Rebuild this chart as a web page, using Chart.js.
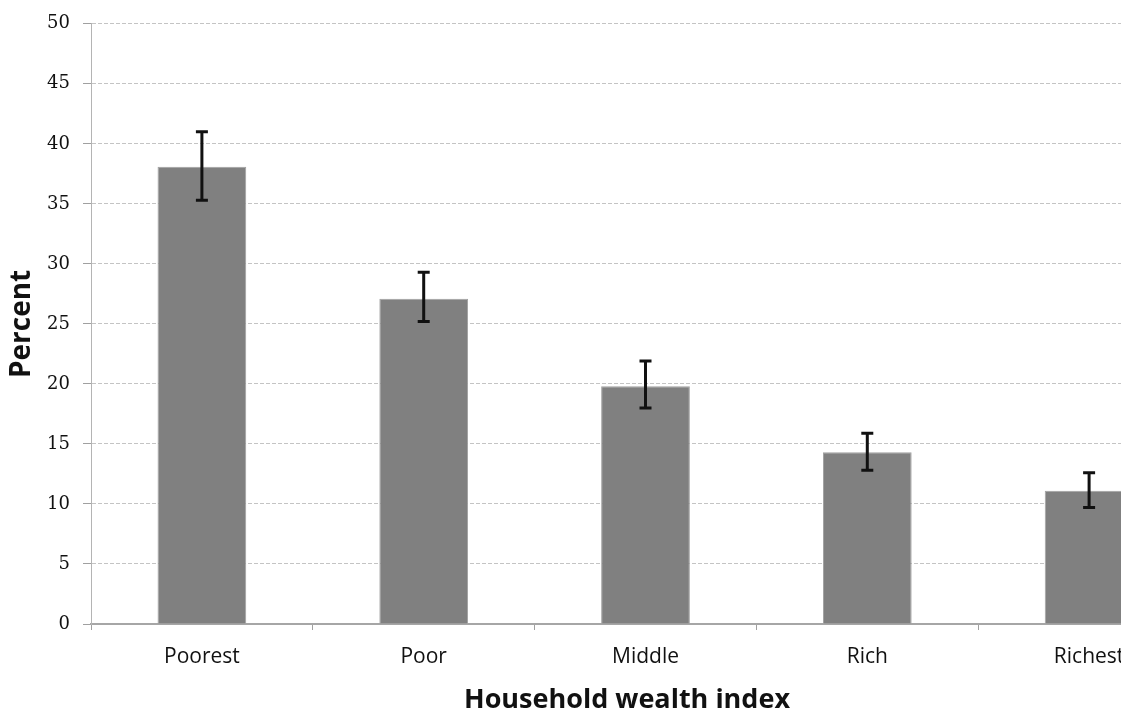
<!DOCTYPE html>
<html>
<head>
<meta charset="utf-8">
<script src="https://cdn.jsdelivr.net/npm/chart.js@4/dist/chart.umd.min.js"></script>
<style>
  html, body { margin: 0; padding: 0; background: #fff; overflow: hidden; }
  #wealthChart { position: absolute; left: 0; top: 0; }
</style>
</head>
<body>
<canvas id="wealthChart" width="1254" height="717"></canvas>
<script>
// values
const categories = ['Poorest', 'Poor', 'Middle', 'Rich', 'Richest'];
const percentValues = [38.1, 27.1, 19.8, 14.3, 11.1];
const errorLow = [35.3, 25.2, 18.0, 12.8, 9.7];
const errorHigh = [41.0, 29.3, 21.9, 15.9, 12.6];

// draws the black error bars using the chart's own scales
const errorBarPlugin = {
    id: 'errorBars',
    afterDatasetsDraw(chart) {
        const ctx = chart.ctx;
        const yScale = chart.scales.y;
        const meta = chart.getDatasetMeta(0);
        ctx.save();
        ctx.strokeStyle = '#111';
        ctx.lineWidth = 3;
        meta.data.forEach((bar, i) => {
            const top = yScale.getPixelForValue(errorHigh[i]);
            const bottom = yScale.getPixelForValue(errorLow[i]);
            const x = bar.x;
            ctx.beginPath();
            ctx.moveTo(x, top);
            ctx.lineTo(x, bottom);
            ctx.moveTo(x - 6, top);
            ctx.lineTo(x + 6, top);
            ctx.moveTo(x - 6, bottom);
            ctx.lineTo(x + 6, bottom);
            ctx.stroke();
        });
        ctx.restore();
    }
};

const ctx = document.getElementById('wealthChart').getContext('2d');

new Chart(ctx, {
    type: 'bar',
    data: {
        labels: categories,
        datasets: [{
            data: percentValues,
            backgroundColor: '#808080',
            borderColor: '#a0a0a0',
            borderWidth: 1,
            barPercentage: 0.4,
            categoryPercentage: 1.0
        }]
    },
    options: {
        responsive: false,
        animation: false,
        devicePixelRatio: 1,
        layout: {
            padding: { top: 19, left: 0, right: 0, bottom: 0 }
        },
        plugins: {
            legend: { display: false },
            tooltip: { enabled: false },
            // x axis caption, centred on the full (cropped) picture width
            title: {
                display: true,
                position: 'bottom',
                text: 'Household wealth index',
                color: '#111',
                padding: { top: 0, bottom: 0 },
                font: { family: 'Open Sans', size: 27, weight: 'bold' }
            }
        },
        scales: {
            x: {
                afterFit: (scale) => { scale.height = 60.6; },
                grid: {
                    display: true,
                    drawOnChartArea: false,
                    drawTicks: true,
                    tickLength: 6,
                    color: '#a0a0a0'
                },
                border: { color: '#a6a6a6', width: 2 },
                ticks: {
                    color: '#111',
                    padding: 14,
                    font: { family: 'Open Sans', size: 21 }
                }
            },
            y: {
                min: 0,
                max: 50,
                afterFit: (scale) => { scale.width = 91; },
                ticks: {
                    stepSize: 5,
                    color: '#111',
                    padding: 13,
                    font: { family: 'DejaVu Serif', size: 18 }
                },
                grid: {
                    color: (c) => c.tick && c.tick.value === 0 ? 'rgba(0,0,0,0)' : '#c4c4c4',
                    tickColor: '#a0a0a0',
                    tickLength: 8,
                    lineWidth: 1
                },
                border: { color: '#b4b4b4', width: 1, dash: [4, 2] },
                title: {
                    display: true,
                    text: 'Percent',
                    color: '#111',
                    padding: { top: 5, bottom: 0 },
                    font: { family: 'Open Sans', size: 28, weight: 'bold' }
                }
            },
            // empty right-hand space: the picture is cut off past the last bar
            yRight: {
                position: 'right',
                display: true,
                afterFit: (scale) => { scale.width = 54; },
                grid: { display: false },
                border: { display: false },
                ticks: { display: false }
            }
        }
    },
    plugins: [errorBarPlugin]
});
</script>
</body>
</html>
